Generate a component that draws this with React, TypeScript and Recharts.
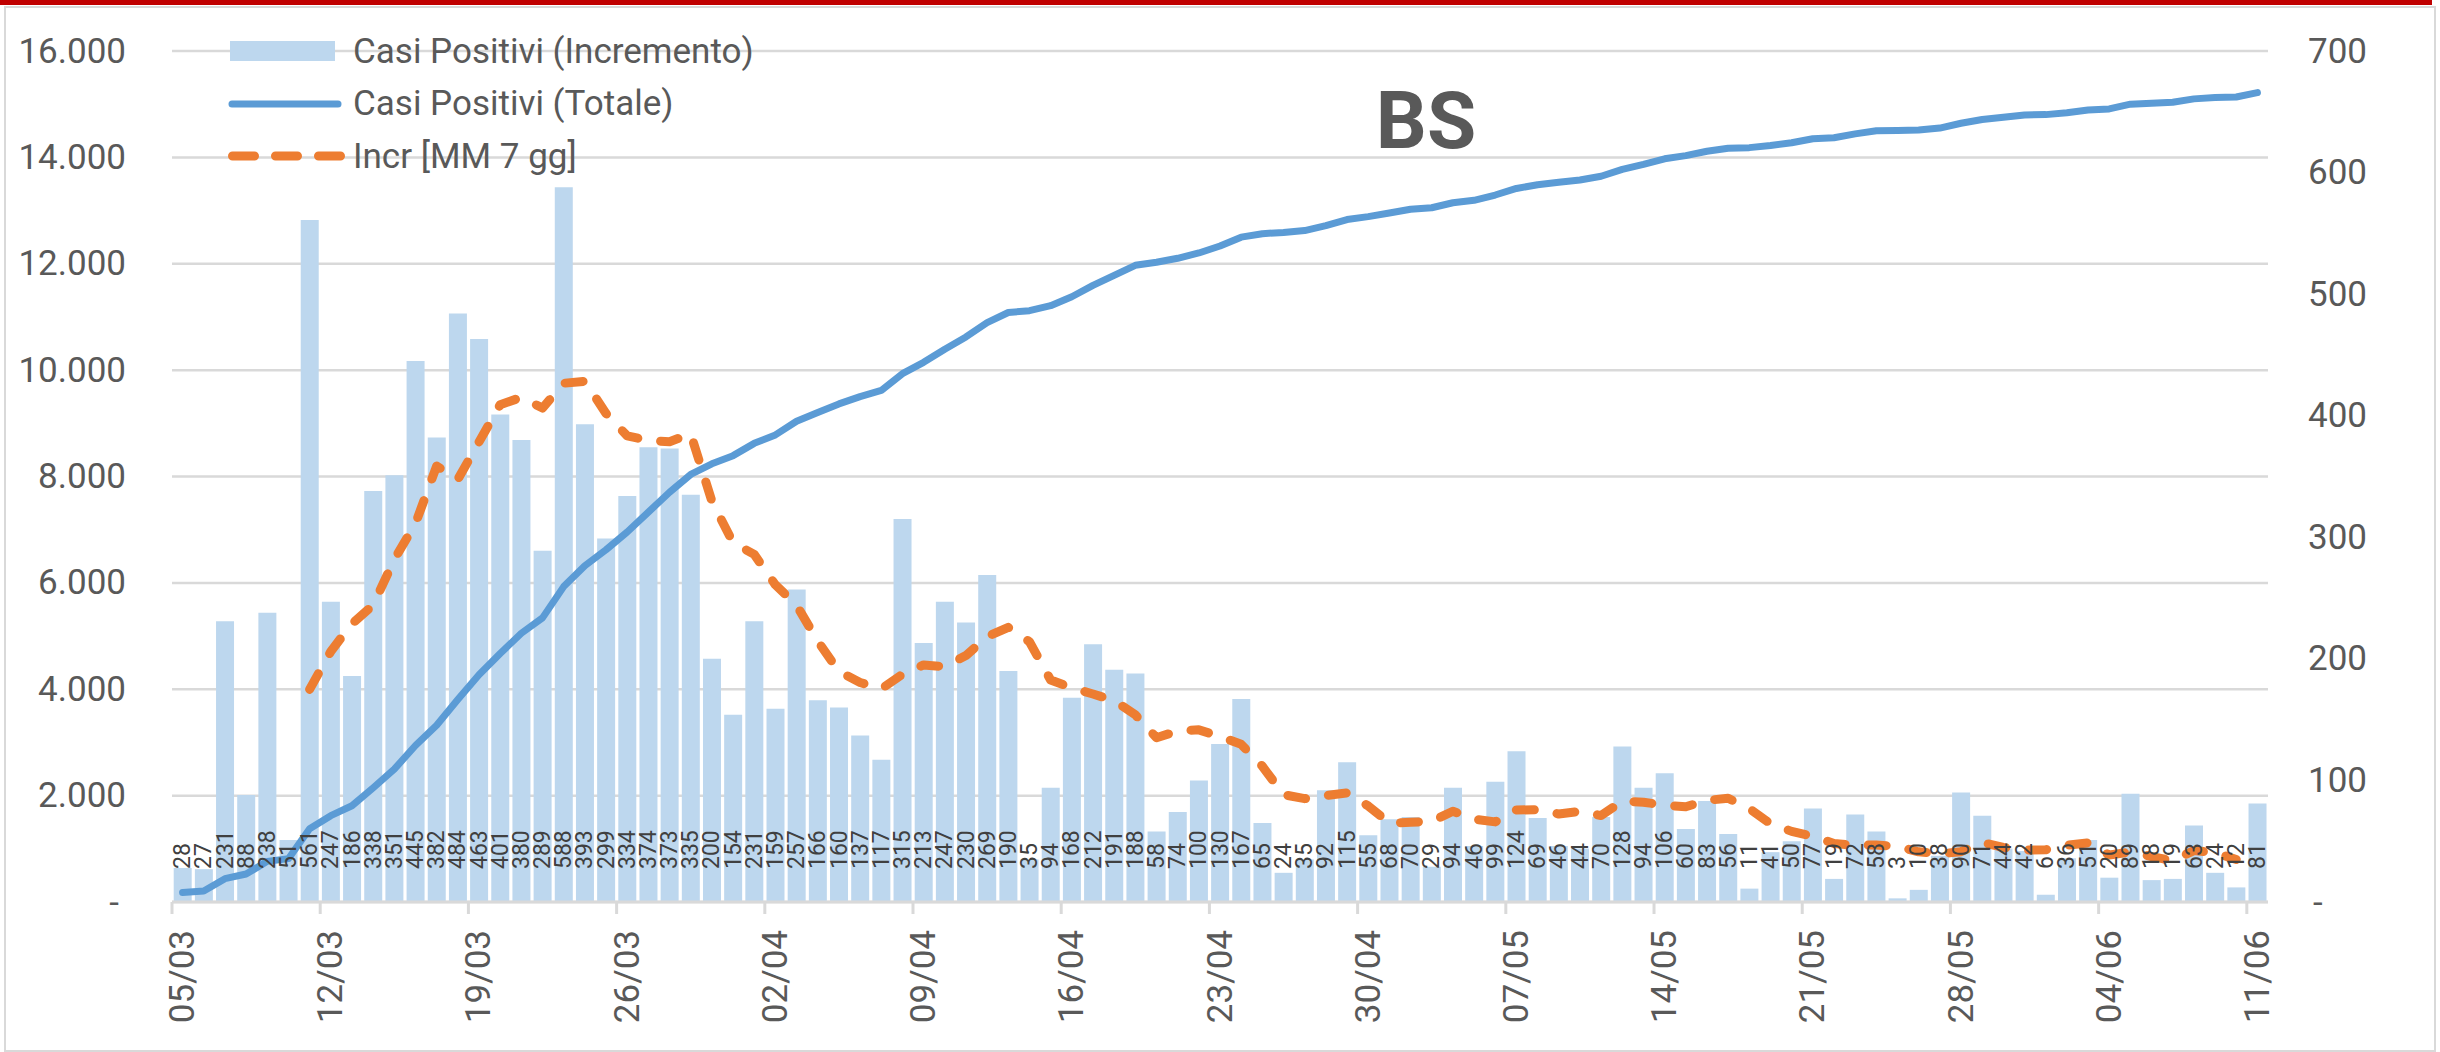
import React from 'react';
import { ComposedChart, Bar, Line, XAxis, YAxis, CartesianGrid, LabelList } from 'recharts';

// giorni (05/03 - 11/06)
const dates = [
  '05/03', '06/03', '07/03', '08/03', '09/03', '10/03', '11/03', '12/03', '13/03', '14/03',
  '15/03', '16/03', '17/03', '18/03', '19/03', '20/03', '21/03', '22/03', '23/03', '24/03',
  '25/03', '26/03', '27/03', '28/03', '29/03', '30/03', '31/03',
  '01/04', '02/04', '03/04', '04/04', '05/04', '06/04', '07/04', '08/04', '09/04', '10/04',
  '11/04', '12/04', '13/04', '14/04', '15/04', '16/04', '17/04', '18/04', '19/04', '20/04',
  '21/04', '22/04', '23/04', '24/04', '25/04', '26/04', '27/04', '28/04', '29/04', '30/04',
  '01/05', '02/05', '03/05', '04/05', '05/05', '06/05', '07/05', '08/05', '09/05', '10/05',
  '11/05', '12/05', '13/05', '14/05', '15/05', '16/05', '17/05', '18/05', '19/05', '20/05',
  '21/05', '22/05', '23/05', '24/05', '25/05', '26/05', '27/05', '28/05', '29/05', '30/05',
  '31/05',
  '01/06', '02/06', '03/06', '04/06', '05/06', '06/06', '07/06', '08/06', '09/06', '10/06',
  '11/06',
];

// Casi Positivi (Incremento) - asse destro
const increments = [
  28, 27, 231, 88, 238, 51, 561, 247, 186, 338,
  351, 445, 382, 484, 463, 401, 380, 289, 588, 393,
  299, 334, 374, 373, 335, 200, 154, 231, 159, 257,
  166, 160, 137, 117, 315, 213, 247, 230, 269, 190,
  35, 94, 168, 212, 191, 188, 58, 74, 100, 130,
  167, 65, 24, 35, 92, 115, 55, 68, 70, 29,
  94, 46, 99, 124, 69, 46, 44, 70, 128, 94,
  106, 60, 83, 56, 11, 41, 50, 77, 19, 72,
  58, 3, 10, 38, 90, 71, 44, 42, 6, 36,
  51, 20, 89, 18, 19, 63, 24, 12, 81,
];

// Casi Positivi (Totale) - asse sinistro
const totals = [
  180, 207, 438, 526, 764, 815, 1376, 1623, 1809, 2147,
  2498, 2943, 3325, 3809, 4272, 4673, 5053, 5342, 5930, 6323,
  6622, 6956, 7330, 7703, 8038, 8238, 8392, 8623, 8782, 9039,
  9205, 9365, 9502, 9619, 9934, 10147, 10394, 10624, 10893, 11083,
  11118, 11212, 11380, 11592, 11783, 11971, 12029, 12103, 12203, 12333,
  12500, 12565, 12589, 12624, 12716, 12831, 12886, 12954, 13024, 13053,
  13147, 13193, 13292, 13416, 13485, 13531, 13575, 13645, 13773, 13867,
  13973, 14033, 14116, 14172, 14183, 14224, 14274, 14351, 14370, 14442,
  14500, 14503, 14513, 14551, 14641, 14712, 14756, 14798, 14804, 14840,
  14891, 14911, 15000, 15018, 15037, 15100, 15124, 15136, 15217,
];

// Incr [MM 7 gg] - asse destro
const movingAvg = [
  null, null, null, null, null, null, 174.9, 206.1, 228.9, 244.1,
  281.7, 311.3, 358.6, 347.6, 378.4, 409.1, 415.1, 406.3, 426.7, 428.3,
  401.9, 383.4, 379.6, 378.6, 385.1, 329.7, 295.6, 285.9, 260.9, 244.1,
  214.6, 189.6, 180.6, 175.3, 187.3, 195.0, 193.6, 202.7, 218.3, 225.9,
  214.1, 182.6, 176.1, 171.1, 165.6, 154.0, 135.1, 140.7, 141.6, 136.1,
  129.7, 111.7, 88.3, 85.0, 87.6, 89.7, 79.0, 64.9, 65.6, 66.3,
  74.7, 68.1, 65.9, 75.7, 75.9, 72.4, 74.6, 71.1, 82.9, 82.1,
  79.6, 78.3, 83.6, 85.3, 76.9, 64.4, 58.1, 54.0, 48.1, 46.6,
  46.9, 45.7, 41.3, 39.6, 41.4, 48.9, 44.9, 42.6, 43.0, 46.7,
  48.6, 38.6, 41.1, 37.4, 34.1, 42.3, 40.6, 35.0, null,
];

const leftTicks = [0, 2000, 4000, 6000, 8000, 10000, 12000, 14000, 16000];
const rightTicks = [0, 100, 200, 300, 400, 500, 600, 700];

const data = dates.map((d, i) => ({
  date: d,
  inc: increments[i],
  tot: totals[i],
  mm: movingAvg[i],
}));

const FONT = 'Roboto, "Open Sans", sans-serif';
const W = 2440;
const H = 1052;
const PLOT_LEFT = 172;
const PLOT_RIGHT = 2268;
const PLOT_TOP = 51;
const PLOT_BOTTOM = 902;
const BAND = (PLOT_RIGHT - PLOT_LEFT) / dates.length;
const AXIS_GREY = '#D9D9D9';
const TEXT_GREY = '#595959';

const fmt = (v: number) => (v === 0 ? '-' : String(v).replace(/\B(?=(\d{3})+(?!\d))/g, '.'));

const DateTick = (props: any) => {
  const { x, payload } = props;
  const tx = x - BAND / 2;
  const ty = PLOT_BOTTOM + 28;
  return (
    <g>
      <line x1={tx} x2={tx} y1={PLOT_BOTTOM} y2={PLOT_BOTTOM + 12} stroke={AXIS_GREY} strokeWidth={3} />
      <text
        x={x}
        y={ty}
        transform={`rotate(-90 ${x} ${ty})`}
        textAnchor="end"
        dominantBaseline="central"
        fontFamily={FONT}
        fontSize={35}
        fill={TEXT_GREY}
      >
        {payload.value}
      </text>
    </g>
  );
};

const LeftTick = (props: any) => {
  const { y, payload } = props;
  const zero = payload.value === 0;
  return (
    <text x={zero ? 119 : 126} y={y} textAnchor="end" dominantBaseline="central" fontFamily={FONT} fontSize={35} fill={TEXT_GREY}>
      {fmt(payload.value)}
    </text>
  );
};

const RightTick = (props: any) => {
  const { y, payload } = props;
  const zero = payload.value === 0;
  return (
    <text x={zero ? 2313 : 2308} y={y} textAnchor="start" dominantBaseline="central" fontFamily={FONT} fontSize={35} fill={TEXT_GREY}>
      {fmt(payload.value)}
    </text>
  );
};

const BarValue = (props: any) => {
  const { x, width, value } = props;
  const cx = x + width / 2;
  const ly = PLOT_BOTTOM - 33;
  return (
    <text
      x={cx}
      y={ly}
      transform={`rotate(-90 ${cx} ${ly})`}
      textAnchor="start"
      dominantBaseline="central"
      fontFamily={FONT}
      fontSize={23}
      fill="#404040"
    >
      {value}
    </text>
  );
};

const legendRow: React.CSSProperties = { display: 'flex', alignItems: 'center', height: 52.5 };

const ChartLegend = () => (
  <div style={{ position: 'absolute', left: 228, top: 25, fontFamily: FONT, fontSize: 35, color: TEXT_GREY, whiteSpace: 'nowrap' }}>
    <div style={legendRow}>
      <svg width={118} height={52}>
        <rect x={2} y={16} width={105} height={20} fill="#BDD7EE" />
      </svg>
      <span style={{ marginLeft: 7 }}>Casi Positivi (Incremento)</span>
    </div>
    <div style={legendRow}>
      <svg width={118} height={52}>
        <line x1={4} x2={110} y1={26} y2={26} stroke="#5B9BD5" strokeWidth={7} strokeLinecap="round" />
      </svg>
      <span style={{ marginLeft: 7 }}>Casi Positivi (Totale)</span>
    </div>
    <div style={legendRow}>
      <svg width={118} height={52}>
        <line x1={4.5} x2={112.5} y1={26} y2={26} stroke="#ED7D31" strokeWidth={9} strokeLinecap="round" strokeDasharray="22 21" />
      </svg>
      <span style={{ marginLeft: 7 }}>Incr [MM 7 gg]</span>
    </div>
  </div>
);

const App = () => {
  return (
    <div style={{ position: 'absolute', left: 0, top: 0, width: W, height: H, background: '#ffffff', overflow: 'hidden' }}>
      <div style={{ position: 'absolute', left: 0, top: 0, width: 2432, height: 5, background: '#C00000' }} />
      <div style={{ position: 'absolute', left: 4, top: 6, width: 2428, height: 1042, border: `2px solid ${AXIS_GREY}` }} />
      <div style={{ position: 'absolute', left: 0, top: 0 }}>
        <ComposedChart
          width={W}
          height={H}
          data={data}
          margin={{ top: PLOT_TOP, right: 0, bottom: 0, left: 0 }}
          barCategoryGap="8%"
        >
          <CartesianGrid yAxisId="left" vertical={false} stroke={AXIS_GREY} strokeWidth={2.5} />
          <XAxis
            dataKey="date"
            interval={6}
            height={H - PLOT_BOTTOM}
            axisLine={{ stroke: AXIS_GREY, strokeWidth: 3 }}
            tickLine={false}
            tick={(p: any) => <DateTick {...p} />}
          />
          <YAxis
            yAxisId="left"
            domain={[0, 16000]}
            ticks={leftTicks}
            width={PLOT_LEFT}
            axisLine={false}
            tickLine={false}
            tick={(p: any) => <LeftTick {...p} />}
          />
          <YAxis
            yAxisId="right"
            orientation="right"
            domain={[0, 700]}
            ticks={rightTicks}
            width={W - PLOT_RIGHT}
            axisLine={false}
            tickLine={false}
            tick={(p: any) => <RightTick {...p} />}
          />
          <Bar yAxisId="right" dataKey="inc" fill="#BDD7EE" isAnimationActive={false}>
            <LabelList dataKey="inc" content={(p: any) => <BarValue {...p} />} />
          </Bar>
          <Line
            yAxisId="left"
            type="linear"
            dataKey="tot"
            stroke="#5B9BD5"
            strokeWidth={7}
            strokeLinecap="round"
            strokeLinejoin="round"
            dot={false}
            activeDot={false}
            isAnimationActive={false}
          />
          <Line
            yAxisId="right"
            type="linear"
            dataKey="mm"
            stroke="#ED7D31"
            strokeWidth={9}
            strokeLinecap="round"
            strokeLinejoin="round"
            strokeDasharray="18 23"
            dot={false}
            activeDot={false}
            isAnimationActive={false}
          />
        </ComposedChart>
      </div>
      <ChartLegend />
      <div
        style={{
          position: 'absolute',
          left: 1326,
          top: 81,
          width: 200,
          textAlign: 'center',
          fontFamily: FONT,
          fontWeight: 700,
          fontSize: 80,
          lineHeight: '80px',
          color: TEXT_GREY,
        }}
      >
        BS
      </div>
    </div>
  );
};

export default App;
